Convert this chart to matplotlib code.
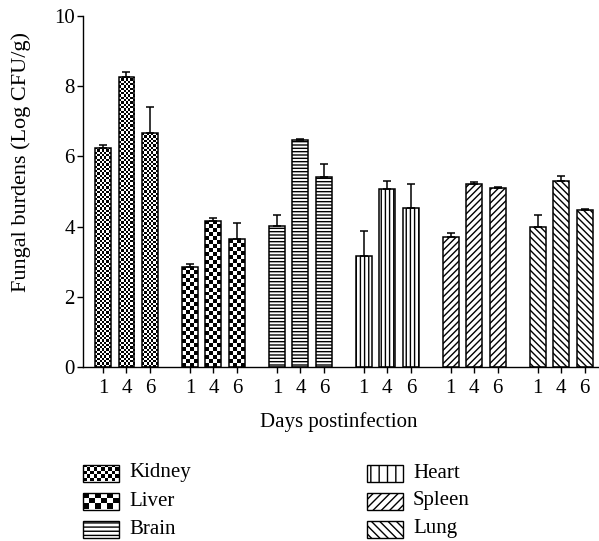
import numpy as np
import matplotlib
matplotlib.use('Agg')
import matplotlib.pyplot as plt
from matplotlib.patches import Rectangle

plt.rcParams['font.family'] = ['Liberation Serif', 'DejaVu Serif']
plt.rcParams['font.size'] = 15
plt.rcParams['hatch.linewidth'] = 1.0

organs = ['Kidney', 'Liver', 'Brain', 'Heart', 'Spleen', 'Lung']
days = ['1', '4', '6']

kidney = [6.24, 8.27, 6.66]
liver = [2.86, 4.17, 3.64]
brain = [4.03, 6.47, 5.42]
heart = [3.17, 5.08, 4.54]
spleen = [3.69, 5.21, 5.11]
lung = [3.98, 5.31, 4.47]

kidney_err = [0.08, 0.13, 0.74]
liver_err = [0.07, 0.08, 0.47]
brain_err = [0.30, 0.03, 0.36]
heart_err = [0.70, 0.22, 0.66]
spleen_err = [0.14, 0.07, 0.02]
lung_err = [0.36, 0.12, 0.02]

values = [kidney, liver, brain, heart, spleen, lung]
errors = [kidney_err, liver_err, brain_err, heart_err, spleen_err, lung_err]

# fill style per organ: ('checker', cell px) or ('hatch', pattern)
styles = [('checker', 2.3), ('checker', 4.0), ('hatch', '-----'),
          ('hatch', '||||'), ('hatch', '/////'), ('hatch', '\\\\\\\\\\')]
legend_styles = [('checker', 3.5), ('checker', 6.0), ('hatch', '----'),
                 ('hatch', '||'), ('hatch', '////'), ('hatch', '\\\\\\\\')]

W, H = 599, 541
fig = plt.figure(figsize=(W / 100, H / 100), dpi=100)
ax = fig.add_axes([83 / W, (H - 367) / H, (W - 83) / W, (367 - 16) / H])

group_step = 3.7
bar_w = 0.68
ax.set_xlim(-0.851, 21.106)
ax.set_ylim(0, 10)


def checker(axis, rect, cell_px, z):
    x0, y0 = rect.get_x(), rect.get_y()
    w, h = rect.get_width(), rect.get_height()
    p0 = axis.transData.transform((x0, y0))
    p1 = axis.transData.transform((x0 + w, y0 + h))
    nx = max(1, int(round(abs(p1[0] - p0[0]) / cell_px)))
    ny = max(1, int(round(abs(p1[1] - p0[1]) / cell_px)))
    grid = np.add.outer(np.arange(ny), np.arange(nx)) % 2
    im = axis.imshow(grid, cmap='gray', vmin=0, vmax=1, extent=(x0, x0 + w, y0, y0 + h),
                     interpolation='nearest', aspect='auto', zorder=z)
    im.set_clip_path(rect)


ticks = []
for g in range(len(organs)):
    x = g * group_step + np.arange(3)
    ticks.extend(x)
    kind, param = styles[g]
    if kind == 'hatch':
        ax.bar(x, values[g], width=bar_w, facecolor='white', edgecolor='black',
               hatch=param, linewidth=1.1, zorder=2)
    else:
        bars = ax.bar(x, values[g], width=bar_w, facecolor='white', edgecolor='none', zorder=1)
        for b in bars:
            checker(ax, b, param, 2)
        ax.bar(x, values[g], width=bar_w, fill=False, edgecolor='black', linewidth=1.1, zorder=3)
    ax.errorbar(x, values[g], yerr=[np.zeros(3), errors[g]], fmt='none', ecolor='black',
                elinewidth=1.1, capsize=3, capthick=1.1, zorder=4)

ax.set_xlim(-0.851, 21.106)
ax.set_ylim(0, 10)

ax.set_xticks(ticks)
ax.set_xticklabels(days * len(organs))
ax.set_yticks([0, 2, 4, 6, 8, 10])
ax.tick_params(axis='both', direction='out', length=4.5, width=1.0, colors='black')
ax.tick_params(axis='y', pad=1.5)
ax.tick_params(axis='x', pad=4)
for side in ['top', 'right']:
    ax.spines[side].set_visible(False)
for side in ['left', 'bottom']:
    ax.spines[side].set_linewidth(1.0)

ax.set_xlabel('Days postinfection')
ax.xaxis.set_label_coords(0.496, -0.128)
ax.set_ylabel('Fungal burdens (Log CFU/g)', fontsize=16)
ax.yaxis.set_label_coords(-0.100, 0.584)

# legend, drawn in pixel coordinates
lax = fig.add_axes([0, 0, 1, 1])
lax.set_xlim(0, W)
lax.set_ylim(H, 0)
lax.axis('off')

row_y = [473, 501, 529]
col_x = [83, 367]
patch_w, patch_h = 36, 17
for i, name in enumerate(organs):
    cx = col_x[i // 3]
    cy = row_y[i % 3]
    kind, param = legend_styles[i]
    if kind == 'hatch':
        lax.add_patch(Rectangle((cx, cy - patch_h / 2), patch_w, patch_h, facecolor='white',
                                edgecolor='black', hatch=param, linewidth=1.0))
    else:
        r = Rectangle((cx, cy - patch_h / 2), patch_w, patch_h, facecolor='white', edgecolor='none')
        lax.add_patch(r)
        checker(lax, r, param, 2)
        lax.add_patch(Rectangle((cx, cy - patch_h / 2), patch_w, patch_h, fill=False,
                                edgecolor='black', linewidth=1.0, zorder=3))
    lax.text(cx + patch_w + 10, cy, name, va='center', ha='left')

lax.set_xlim(0, W)
lax.set_ylim(H, 0)

fig.savefig('out.png', dpi=100)
